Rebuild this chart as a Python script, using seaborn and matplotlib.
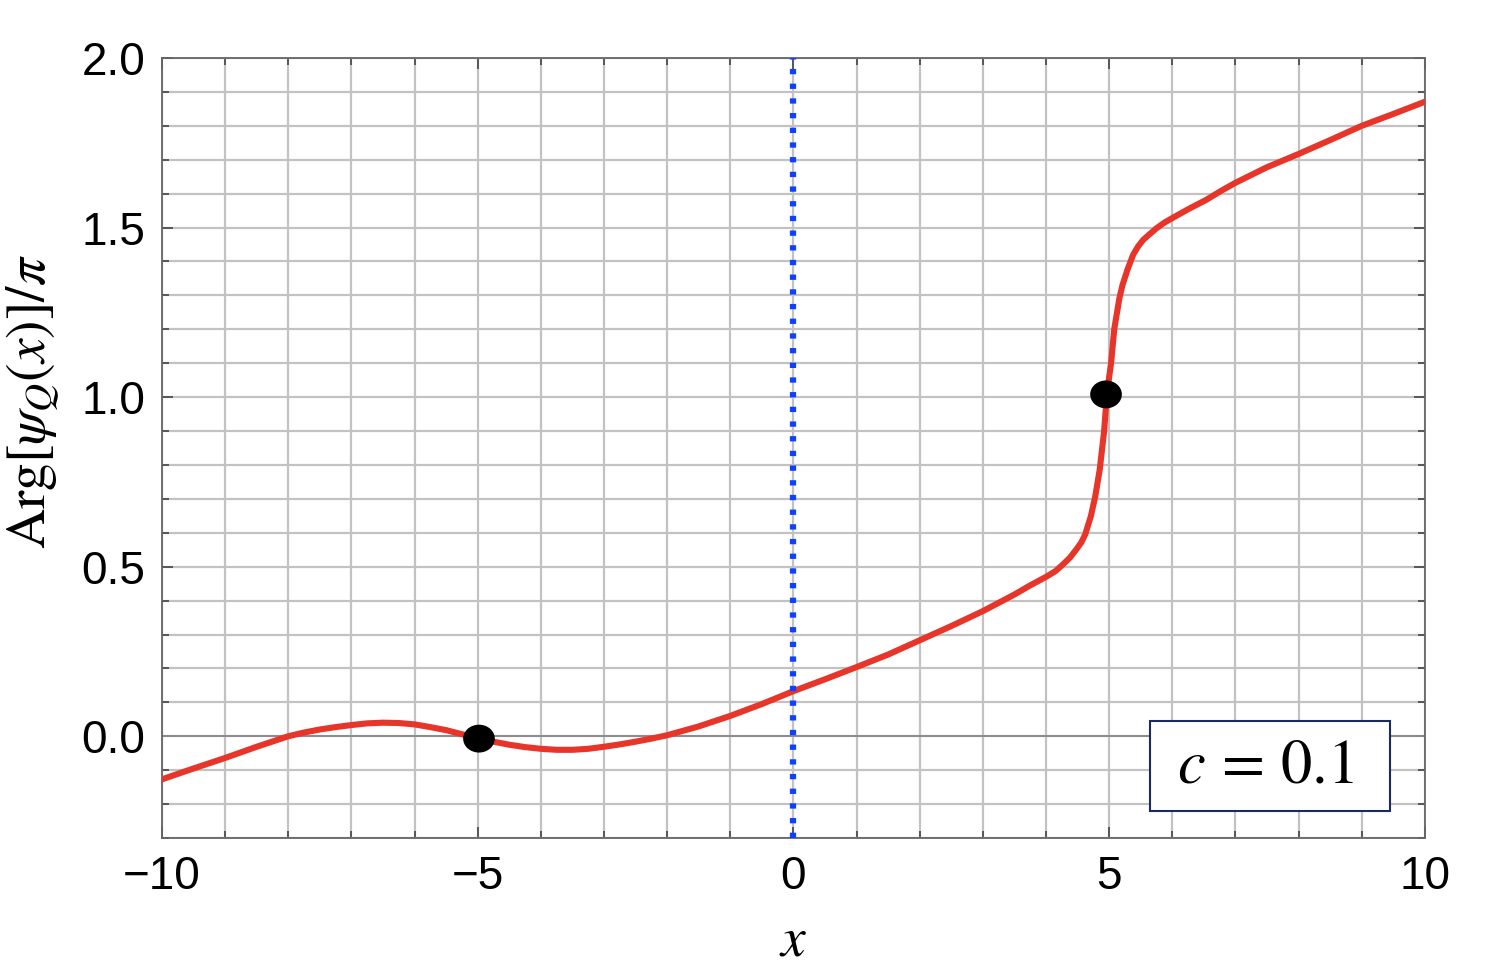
import numpy as np
import pandas as pd
import matplotlib
matplotlib.use("Agg")
import matplotlib.pyplot as plt
from matplotlib.ticker import MultipleLocator, FixedLocator
from matplotlib.path import Path
from matplotlib.patches import Rectangle
import seaborn as sns

# ---- data ----
x_curve = [-10, -9.5, -9, -8.5, -8, -7.75, -7.5, -7.25, -7, -6.75, -6.5, -6.25,
           -6, -5.75, -5.5, -5.25, -5, -4.75, -4.5, -4.25, -4, -3.75, -3.5,
           -3.25, -3, -2.75, -2.5, -2.25, -2, -1.5, -1, -0.5, 0, 0.5, 1, 1.5, 2,
           2.5, 3, 3.5, 3.75, 4, 4.15, 4.27, 4.38, 4.48, 4.56, 4.62, 4.71, 4.78,
           4.85, 4.92, 4.96, 5.0, 5.03, 5.08, 5.16, 5.21, 5.29, 5.38, 5.46, 5.54,
           5.65, 5.75, 5.87, 6.0, 6.27, 6.54, 6.77, 7, 7.5, 8, 8.5, 9, 9.5, 10]
y_curve = [-0.127, -0.095, -0.064, -0.031, 0.0, 0.011, 0.020, 0.027, 0.033,
           0.038, 0.040, 0.039, 0.035, 0.027, 0.018, 0.006, -0.006, -0.016,
           -0.025, -0.032, -0.037, -0.040, -0.040, -0.037, -0.031, -0.024,
           -0.016, -0.007, 0.003, 0.029, 0.060, 0.095, 0.133, 0.168, 0.204,
           0.241, 0.283, 0.325, 0.369, 0.418, 0.445, 0.470, 0.487, 0.507, 0.527,
           0.551, 0.572, 0.595, 0.649, 0.708, 0.786, 0.900, 1.000, 1.060, 1.100,
           1.200, 1.290, 1.330, 1.376, 1.420, 1.445, 1.464, 1.482, 1.498, 1.514,
           1.528, 1.556, 1.582, 1.608, 1.632, 1.678, 1.717, 1.758, 1.800, 1.835,
           1.871]
x_points = [-4.98, 4.95]
y_points = [-0.007, 1.008]
x_vline = 0
c_label = r"$c\,=\,0.1$"
x_ticks = [-10, -5, 0, 5, 10]
x_ticklabels = ["\u221210", "\u22125", "0", "5", "10"]
y_ticks = [0.0, 0.5, 1.0, 1.5, 2.0]
y_ticklabels = ["0.0", "0.5", "1.0", "1.5", "2.0"]
xlabel = r"$x$"
ylabel = r"$\mathrm{Arg}[\psi_{Q}(x)]/\pi$"

curve = pd.DataFrame({"x": x_curve, "y": y_curve})
pts = pd.DataFrame({"x": x_points, "y": y_points})

sns.set_style("ticks")
plt.rcParams["font.family"] = ["Liberation Sans", "DejaVu Sans"]
plt.rcParams["mathtext.fontset"] = "stix"

fig = plt.figure(figsize=(14.86, 9.76), dpi=100)
ax = fig.add_axes([0.1090, 0.1414, 0.8499, 0.7992])

ax.set_xlim(-10, 10)
ax.set_ylim(-0.3, 2.0)

# grid
ax.xaxis.set_major_locator(FixedLocator(x_ticks))
ax.yaxis.set_major_locator(FixedLocator(y_ticks))
ax.xaxis.set_minor_locator(MultipleLocator(1))
ax.yaxis.set_minor_locator(MultipleLocator(0.1))
ax.grid(which="both", color="#c2c2c2", lw=1.6, zorder=0)
ax.set_axisbelow(True)
ax.axhline(0, color="#8c8c8c", lw=1.4, zorder=1)

sns.lineplot(data=curve, x="x", y="y", ax=ax, color="#e8352a", lw=4.4,
             sort=False, estimator=None, zorder=3,
             solid_joinstyle="round", solid_capstyle="round")
ax.axvline(x_vline, color="#1040ff", lw=4.5, dashes=(0.85, 1.5),
           dash_capstyle="butt", zorder=4)

circ = Path.unit_circle()
ell = Path(circ.vertices * np.array([1.0, 0.88]), circ.codes)
sns.scatterplot(data=pts, x="x", y="y", ax=ax, marker=ell, s=520,
                color="black", edgecolor="none", zorder=5)

# ticks
ax.set_xticklabels(x_ticklabels)
ax.set_yticklabels(y_ticklabels)
ax.tick_params(which="both", direction="in", top=True, right=True,
               color="#444444", width=1.2, labelcolor="black")
ax.tick_params(which="major", length=8, labelsize=33, pad=12)
ax.tick_params(which="minor", length=5)
for s in ax.spines.values():
    s.set_color("#666666")
    s.set_linewidth(1.3)

ax.set_xlabel(xlabel, fontsize=40, color="black")
ax.set_ylabel(ylabel, fontsize=40, color="black")
ax.xaxis.set_label_coords(0.5, -0.10)
ax.yaxis.set_label_coords(-0.079, 0.56)

# parameter box
ax.add_patch(Rectangle((0.782, 0.034), 0.19, 0.116, transform=ax.transAxes,
                       facecolor="white", edgecolor="#1c2b5e", lw=1.5, zorder=6))
ax.text(0.874, 0.092, c_label, transform=ax.transAxes, ha="center",
        va="center", fontsize=45, zorder=7, color="black")

fig.savefig("out.png", dpi=100)
